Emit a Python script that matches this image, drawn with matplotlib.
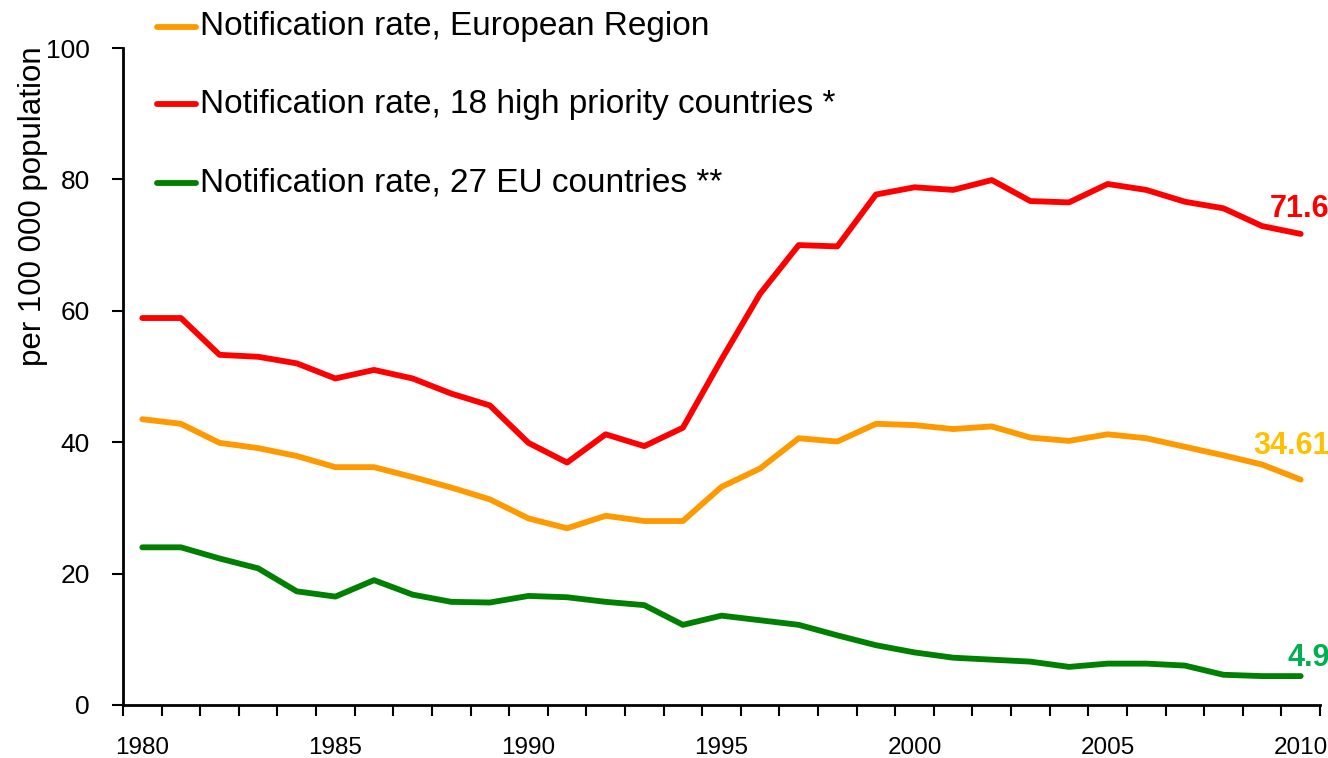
import matplotlib
matplotlib.use("Agg")
import matplotlib.pyplot as plt
from matplotlib import font_manager as fm
from matplotlib.ticker import FixedLocator, NullFormatter
from matplotlib.lines import Line2D

years = list(range(1980, 2011))
europe = [43.5, 42.8, 39.9, 39.1, 37.9, 36.2, 36.2, 34.7, 33.1, 31.3,
          28.4, 26.9, 28.8, 28.0, 28.0, 33.2, 36.0, 40.6, 40.1, 42.8,
          42.6, 42.0, 42.4, 40.7, 40.2, 41.2, 40.6, 39.3, 38.0, 36.6, 34.3]
high_priority = [58.9, 58.9, 53.3, 53.0, 52.0, 49.7, 51.0, 49.7, 47.4, 45.6,
                 39.9, 36.9, 41.2, 39.4, 42.2, 52.6, 62.6, 70.0, 69.8, 77.7,
                 78.8, 78.4, 79.9, 76.7, 76.5, 79.3, 78.4, 76.6, 75.6, 72.9, 71.7]
eu27 = [24.0, 24.0, 22.3, 20.8, 17.3, 16.5, 19.0, 16.8, 15.7, 15.6,
        16.6, 16.4, 15.7, 15.2, 12.2, 13.6, 12.9, 12.2, 10.6, 9.1,
        8.0, 7.2, 6.9, 6.6, 5.8, 6.3, 6.3, 6.0, 4.6, 4.4, 4.4]
series_names = ["Notification rate, European Region",
                "Notification rate, 18 high priority countries *",
                "Notification rate, 27 EU countries **"]
end_labels = ["34.61", "71.6", "4.9"]
xtick_years = [1980, 1985, 1990, 1995, 2000, 2005, 2010]
yticks = [0, 20, 40, 60, 80, 100]
ylabel = "per 100 000 population"

line_colors = ["#FF9900", "#FF0000", "#008000"]
label_colors = ["#FFC000", "#FF0000", "#00B050"]

avail = {f.name for f in fm.fontManager.ttflist}
fam = "Liberation Sans Narrow" if "Liberation Sans Narrow" in avail else "Liberation Sans"
plt.rcParams["font.family"] = [fam, "DejaVu Sans"]

fig = plt.figure(figsize=(13.28, 7.58), dpi=100)
ax = fig.add_axes([123/1328, 1-705/758, (1320-123)/1328, (705-48)/758])

data = [europe, high_priority, eu27]
for vals, c in zip(data, line_colors):
    ax.plot(years, vals, color=c, lw=4.2, solid_joinstyle="round", solid_capstyle="round")

ax.set_xlim(years[0]-0.5, years[-1]+0.5)
ax.set_ylim(0, 100)
ax.set_yticks(yticks)
ax.set_yticklabels([str(v) for v in yticks], fontsize=19)
ax.set_xticks(xtick_years)
ax.set_xticklabels([str(y) for y in xtick_years], fontsize=17.5)
ax.xaxis.set_minor_locator(FixedLocator([y-0.5 for y in years] + [years[-1]+0.5]))
ax.xaxis.set_minor_formatter(NullFormatter())
ax.tick_params(axis="x", which="major", length=0, pad=23)
ax.tick_params(axis="x", which="minor", length=8, width=1.5, direction="out")
ax.tick_params(axis="y", length=8, width=1.5, direction="out", pad=16)
for s in ["top", "right"]:
    ax.spines[s].set_visible(False)
for s in ["left", "bottom"]:
    ax.spines[s].set_linewidth(2)
fig.text(33/1328, 1-206/758, ylabel, rotation=90, fontsize=22.5, ha="center", va="center")

offsets = [(21, 24), (21, 18), (21, 13)]
for vals, lab, c, off in zip(data, end_labels, label_colors, offsets):
    ax.annotate(lab, xy=(years[-1], vals[-1]), xytext=off, textcoords="offset points",
                ha="right", va="center", color=c, fontsize=22, fontweight="bold")

leg_y = [27, 104, 183]
for name, c, yy in zip(series_names, line_colors, leg_y):
    yf = 1 - yy/758
    fig.add_artist(Line2D([157/1328, 196/1328], [yf, yf], transform=fig.transFigure,
                          color=c, lw=4.2, solid_capstyle="round"))
    fig.text(200/1328, yf, name, fontsize=24, va="center", ha="left", color="black")

fig.savefig("out.png", dpi=100)
